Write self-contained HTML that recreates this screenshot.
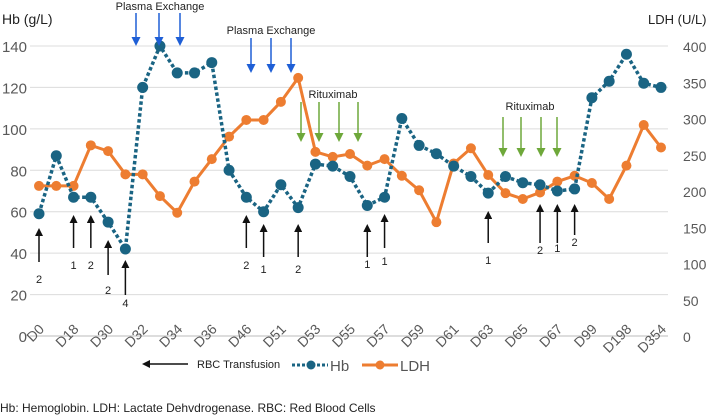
<!DOCTYPE html>
<html><head><meta charset="utf-8"><style>
html,body{margin:0;padding:0;background:#fff;}
svg{display:block;font-family:"Liberation Sans",sans-serif;}
</style></head><body>
<svg id="chart" width="709" height="419" viewBox="0 0 709 419">
<defs>
<marker id="ab" markerWidth="8" markerHeight="8" refX="4" refY="4" orient="auto" markerUnits="userSpaceOnUse"><path d="M0,0 L8,4 L0,8 z" fill="#111"/></marker>
<marker id="ablue" markerWidth="9" markerHeight="9" refX="5" refY="4.5" orient="auto" markerUnits="userSpaceOnUse"><path d="M0,0 L9,4.5 L0,9 z" fill="#1f5fd6"/></marker>
<marker id="agreen" markerWidth="9" markerHeight="9" refX="5" refY="4.5" orient="auto" markerUnits="userSpaceOnUse"><path d="M0,0 L9,4.5 L0,9 z" fill="#6ea83a"/></marker>
</defs>
<g id="grid"></g>
<g id="axes"></g>
<g id="series"></g>
<g id="annot"></g>
<text x="2" y="24" font-size="14" fill="#222">Hb (g/L)</text>
<text x="648" y="24" font-size="13" fill="#222">LDH (U/L)</text>
<g>
<line x1="188" y1="364" x2="146" y2="364" stroke="#111" stroke-width="1.5" marker-end="url(#ab)"/>
<text x="197" y="368" font-size="11" fill="#222">RBC Transfusion</text>
<line x1="292" y1="365" x2="328" y2="365" stroke="#1a6483" stroke-width="3" stroke-dasharray="3,2"/>
<circle cx="311" cy="365" r="4.5" fill="#1a6483"/>
<text x="330" y="371" font-size="15" fill="#555">Hb</text>
<line x1="362" y1="365" x2="398" y2="365" stroke="#ed7d31" stroke-width="3"/>
<circle cx="380" cy="365" r="4.5" fill="#ed7d31"/>
<text x="400" y="371" font-size="15" fill="#555">LDH</text>
</g>
<text x="0" y="412" font-size="12" fill="#222">Hb: Hemoglobin. LDH: Lactate Dehvdrogenase. RBC: Red Blood Cells</text>
</svg>
<script>
const dayLabels=["D0","D18","D30","D32","D34","D36","D46","D51","D53","D55","D57","D59","D61","D63","D65","D67","D99","D198","D354"];
const hbValues=[59,87,67,67,55,42,120,140,127,127,132,80,67,60,73,62,83,82,77,63,67,105,92,88,82,77,69,77,74,73,70,71,115,123,136,122,120];
const ldhValues=[207,207,207,263,255,223,223,193,170,213,244,275,298,298,323,356,254,247,251,235,244,221,201,157,238,259,222,197,189,198,213,221,211,189,235,291,260];
const leftTicks=[0,20,40,60,80,100,120,140];
const rightTicks=[0,50,100,150,200,250,300,350,400];
const transfusionIdx=[0,2,3,4,5,12,13,15,19,20,26,29,30,31];
const transfusionUnits=["2","1","2","2","4","2","1","2","1","1","1","2","1","2"];
const NS="http://www.w3.org/2000/svg";
const x0=39,x1=661,yZero=336,yTop=46;
const n=hbValues.length;
function xAt(i){return x0+(x1-x0)*i/(n-1);}
function yHb(v){return yZero-(yZero-yTop)*v/140;}
function yLdh(v){return yZero-(yZero-yTop)*v/400;}
function mk(tag,attrs,parent){const e=document.createElementNS(NS,tag);for(const k in attrs)e.setAttribute(k,attrs[k]);parent.appendChild(e);return e;}
const grid=document.getElementById('grid'),axes=document.getElementById('axes'),series=document.getElementById('series'),annot=document.getElementById('annot');
leftTicks.forEach(t=>{const y=yHb(t);
 const l=mk('line',{x1:30,x2:668,y1:y,y2:y,stroke:t===0?'#bbb':'#dcdcdc','stroke-width':1},grid);
 
 
 const tx=mk('text',{x:27,y:y+6,'font-size':15,fill:'#595959','text-anchor':'end'},axes);tx.textContent=t;
 
 
});
rightTicks.forEach(t=>{const y=yLdh(t);
 const tx=mk('text',{x:683,y:y+6,'font-size':14,fill:'#595959'},axes);tx.textContent=t;
 
 
});
dayLabels.forEach((d,j)=>{const x=xAt(j*2),y=330;
 const tx=mk('text',{x:x+6,y:y,'font-size':14,fill:'#595959','text-anchor':'end',transform:`rotate(-45 ${x+6} ${y})`},axes);tx.textContent=d;
 
 
});
const ldhPts=ldhValues.map((v,i)=>xAt(i)+','+yLdh(v)).join(' ');
const lp=mk('polyline',{points:ldhPts,fill:'none',stroke:'#ed7d31','stroke-width':3,'stroke-linejoin':'round'},series);


ldhValues.forEach((v,i)=>{const c=mk('circle',{cx:xAt(i),cy:yLdh(v),r:5,fill:'#ed7d31'},series);
 
 });
const hbPts=hbValues.map((v,i)=>xAt(i)+','+yHb(v)).join(' ');
const hp=mk('polyline',{points:hbPts,fill:'none',stroke:'#1a6483','stroke-width':3.5,'stroke-dasharray':'3.5,2.5'},series);


hbValues.forEach((v,i)=>{const c=mk('circle',{cx:xAt(i),cy:yHb(v),r:5.5,fill:'#1a6483'},series);
 
 });
const arrowLens=[[262,228,279],[248,215,265],[248,215,265],[275,240,290],[295,260,303],[248,215,265],[257,224,269],[257,224,269],[257,224,264],[248,214,261],[243,211,260],[243,204,250],[243,204,248],[235,204,242]];
transfusionIdx.forEach((idx,k)=>{const x=xAt(idx),a=arrowLens[k];
 const l=mk('line',{x1:x,x2:x,y1:a[0],y2:a[1]+4,stroke:'#111','stroke-width':1.5,'marker-end':'url(#ab)'},annot);
 
 
 const t=mk('text',{x:x,y:a[2]+4,'font-size':11,fill:'#222','text-anchor':'middle'},annot);t.textContent=transfusionUnits[k];
 
 
});
function group(xs,y1,y2,color,marker,label,lx,ly,name){
 xs.forEach(x=>{const l=mk('line',{x1:x,x2:x,y1:y1,y2:y2-4,stroke:color,'stroke-width':1.5,'marker-end':`url(#${marker})`},annot);
  
  });
 const t=mk('text',{x:lx,y:ly,'font-size':11,fill:'#222','text-anchor':'middle'},annot);t.textContent=label;
 
 
}
group([136,159,180],13,46,'#1f5fd6','ablue','Plasma Exchange',160,10,'plasma-exchange-1');
group([251,271,291],38,73,'#1f5fd6','ablue','Plasma Exchange',271,34,'plasma-exchange-2');
group([301,319,339,358],102,142,'#6ea83a','agreen','Rituximab',333,98,'rituximab-1');
group([503,521,541,557],117,157,'#6ea83a','agreen','Rituximab',530,110,'rituximab-2');
</script>
</body></html>
